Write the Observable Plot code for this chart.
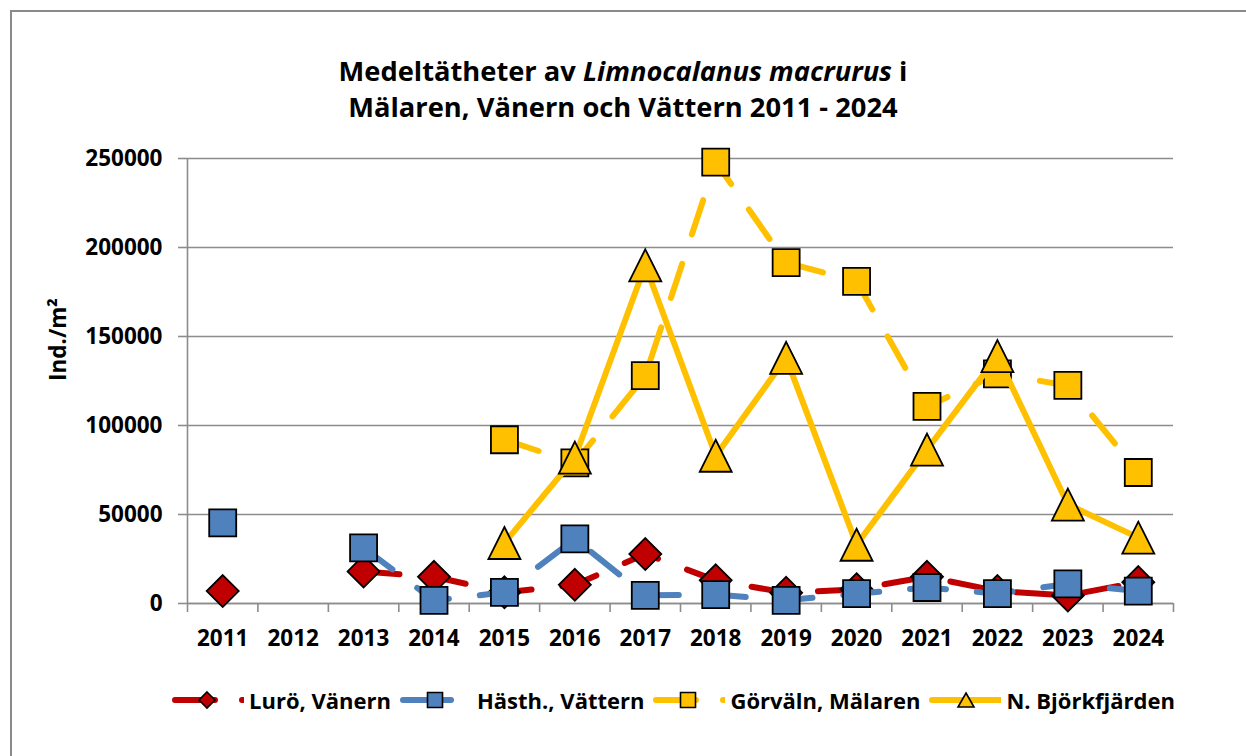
<!DOCTYPE html>
<html><head><meta charset="utf-8">
<script src="https://cdn.jsdelivr.net/npm/d3@7"></script>
<script src="https://cdn.jsdelivr.net/npm/@observablehq/plot@0.6"></script>
<style>
body{margin:0;background:#fff;font-family:"Open Sans",sans-serif;width:1246px;height:756px;overflow:hidden;position:relative;}
#frame{position:absolute;left:10px;top:10px;width:1260px;height:770px;border:2px solid #8a8a8a;box-sizing:border-box;}
#title{position:absolute;left:0;top:53px;width:1246px;text-align:center;font-weight:bold;font-size:27.3px;line-height:36px;color:#000;}
#chart{position:absolute;left:0;top:130px;}
#legend{position:absolute;top:685px;left:0;width:1347px;display:flex;justify-content:center;align-items:center;font-weight:bold;font-size:22px;color:#000;}
.item{display:flex;align-items:center;margin:0 4.5px;}
.item svg{margin-right:5px;}
</style>
</head><body>
<div id="frame"></div>
<div id="title">Medeltätheter av <i>Limnocalanus macrurus</i> i<br>Mälaren, Vänern och Vättern 2011 - 2024</div>
<div id="chart"></div>
<div id="legend"></div>
<script>
const years = [2011, 2012, 2013, 2014, 2015, 2016, 2017, 2018, 2019, 2020, 2021, 2022, 2023, 2024];
const luro    = [7000, null, 18000, 15000, 6300, 10500, 27800, 13000, 6000, 8000, 15000, 7000, 4500, 12000];
const hasth   = [45300, null, 31300, 1700, 6300, 36300, 4600, 5000, 1800, 5500, 9000, 5500, 11000, 7000];
const gorvaln = [null, null, null, null, 92000, 79000, 128000, 248000, 191500, 181000, 110700, 129000, 122500, 73600];
const bjork   = [null, null, null, null, 34000, 82000, 190000, 83000, 138000, 33000, 86500, 139000, 55600, 37000];
const seriesNames = ["Lurö, Vänern", "Hästh., Vättern", "Görväln, Mälaren", "N. Björkfjärden"];
const yTicks = [0, 50000, 100000, 150000, 200000, 250000];

const RED = "#C00000", BLUE = "#4F81BD", GOLD = "#FFC000", GRID = "#8c8c8c";

const diamond = {draw(c, s){const h=Math.sqrt(s)/2; c.moveTo(0,-h); c.lineTo(h,0); c.lineTo(0,h); c.lineTo(-h,0); c.closePath();}};
const square = {draw(c, s){const h=Math.sqrt(s)/2; c.moveTo(-h,-h); c.lineTo(h,-h); c.lineTo(h,h); c.lineTo(-h,h); c.closePath();}};
const triangle = {draw(c, s){const h=Math.sqrt(s)/2; c.moveTo(0,-h); c.lineTo(h,h); c.lineTo(-h,h); c.closePath();}};
const rFor = side => side / Math.sqrt(Math.PI);

const rows = vals => years.map((y, i) => ({year: y, value: vals[i]}));
const pts = vals => rows(vals).filter(d => d.value != null);

const dash = "36,31";
const series = [
  {vals: luro, color: RED, sym: diamond, side: 32, dashed: true},
  {vals: hasth, color: BLUE, sym: square, side: 27, dashed: true},
  {vals: gorvaln, color: GOLD, sym: square, side: 27, dashed: true},
  {vals: bjork, color: GOLD, sym: triangle, side: 32, dashed: false}
];

const boundaries = d3.range(years.length + 1).map(i => years[0] - 0.5 + i);

const marks = [
  Plot.gridY(yTicks, {stroke: GRID, strokeOpacity: 1, strokeWidth: 1.6}),
  Plot.ruleX([boundaries[0]], {stroke: GRID, strokeWidth: 1.6}),
  Plot.axisY(yTicks, {tickSize: 9, tickPadding: 16, stroke: GRID, strokeWidth: 1.6, tickFormat: d => String(d), label: null, fontSize: 22.5, fontWeight: "bold"}),
  Plot.axisX(boundaries, {tickSize: 9, stroke: GRID, strokeWidth: 1.6, tickFormat: () => "", label: null}),
  Plot.axisX(years, {tickSize: 0, tickPadding: 27, tickFormat: d => String(d), label: null, fontSize: 22.5, fontWeight: "bold"}),
  Plot.ruleY([0], {stroke: GRID, strokeWidth: 1.6}),
  Plot.text(["Ind./m²"], {frameAnchor: "left", rotate: -90, dx: -129, fontSize: 22.5, fontWeight: "bold", fill: "#000"})
];
for (const s of series) {
  marks.push(Plot.line(rows(s.vals), {x: "year", y: "value", stroke: s.color, strokeWidth: 6,
    strokeDasharray: s.dashed ? dash : null, strokeLinecap: "round", strokeLinejoin: "round"}));
  marks.push(Plot.dot(pts(s.vals), {x: "year", y: "value", symbol: s.sym, r: rFor(s.side),
    fill: s.color, stroke: "#000", strokeWidth: 1.8}));
}

const plot = Plot.plot({
  width: 1246, height: 560,
  marginLeft: 187, marginRight: 73, marginTop: 28, marginBottom: 87,
  x: {type: "linear", domain: [boundaries[0], boundaries[boundaries.length - 1]], axis: null},
  y: {domain: [0, 250000], axis: null},
  style: {fontFamily: "Open Sans", fontWeight: "bold", fontSize: "22px", color: "#000", background: "transparent", overflow: "visible"},
  marks
});
document.getElementById("chart").appendChild(plot);

// Legend
const legend = d3.select("#legend");
const legendSpec = [
  {name: seriesNames[0], color: RED, shape: "diamond", dashed: true},
  {name: seriesNames[1], color: BLUE, shape: "square", dashed: false},
  {name: seriesNames[2], color: GOLD, shape: "square", dashed: true},
  {name: seriesNames[3], color: GOLD, shape: "triangle", dashed: false}
];
legendSpec.forEach(it => {
  const item = legend.append("div").attr("class", "item");
  const svg = item.append("svg").attr("width", 72).attr("height", 24);
  const len = it.shape === "triangle" ? 69 : (it.dashed ? 68 : 48);
  svg.append("line").attr("x1", 3).attr("x2", 3 + len).attr("y1", 12).attr("y2", 12)
    .attr("stroke", it.color).attr("stroke-width", 6).attr("stroke-linecap", "round")
    .attr("stroke-dasharray", it.dashed ? "40,27" : null);
  const cx = it.shape === "triangle" ? 37 : 35, cy = 12;
  if (it.shape === "diamond") svg.append("path").attr("d", `M${cx},${cy-8}L${cx+8},${cy}L${cx},${cy+8}L${cx-8},${cy}Z`);
  if (it.shape === "square") svg.append("path").attr("d", `M${cx-7.5},${cy-7.5}h15v15h-15Z`);
  if (it.shape === "triangle") svg.append("path").attr("d", `M${cx},${cy-7}L${cx+8},${cy+7}L${cx-8},${cy+7}Z`);
  svg.selectAll("path").attr("fill", it.color).attr("stroke", "#000").attr("stroke-width", 1.6);
  item.append("span").text(it.name);
});
</script>
</body></html>
